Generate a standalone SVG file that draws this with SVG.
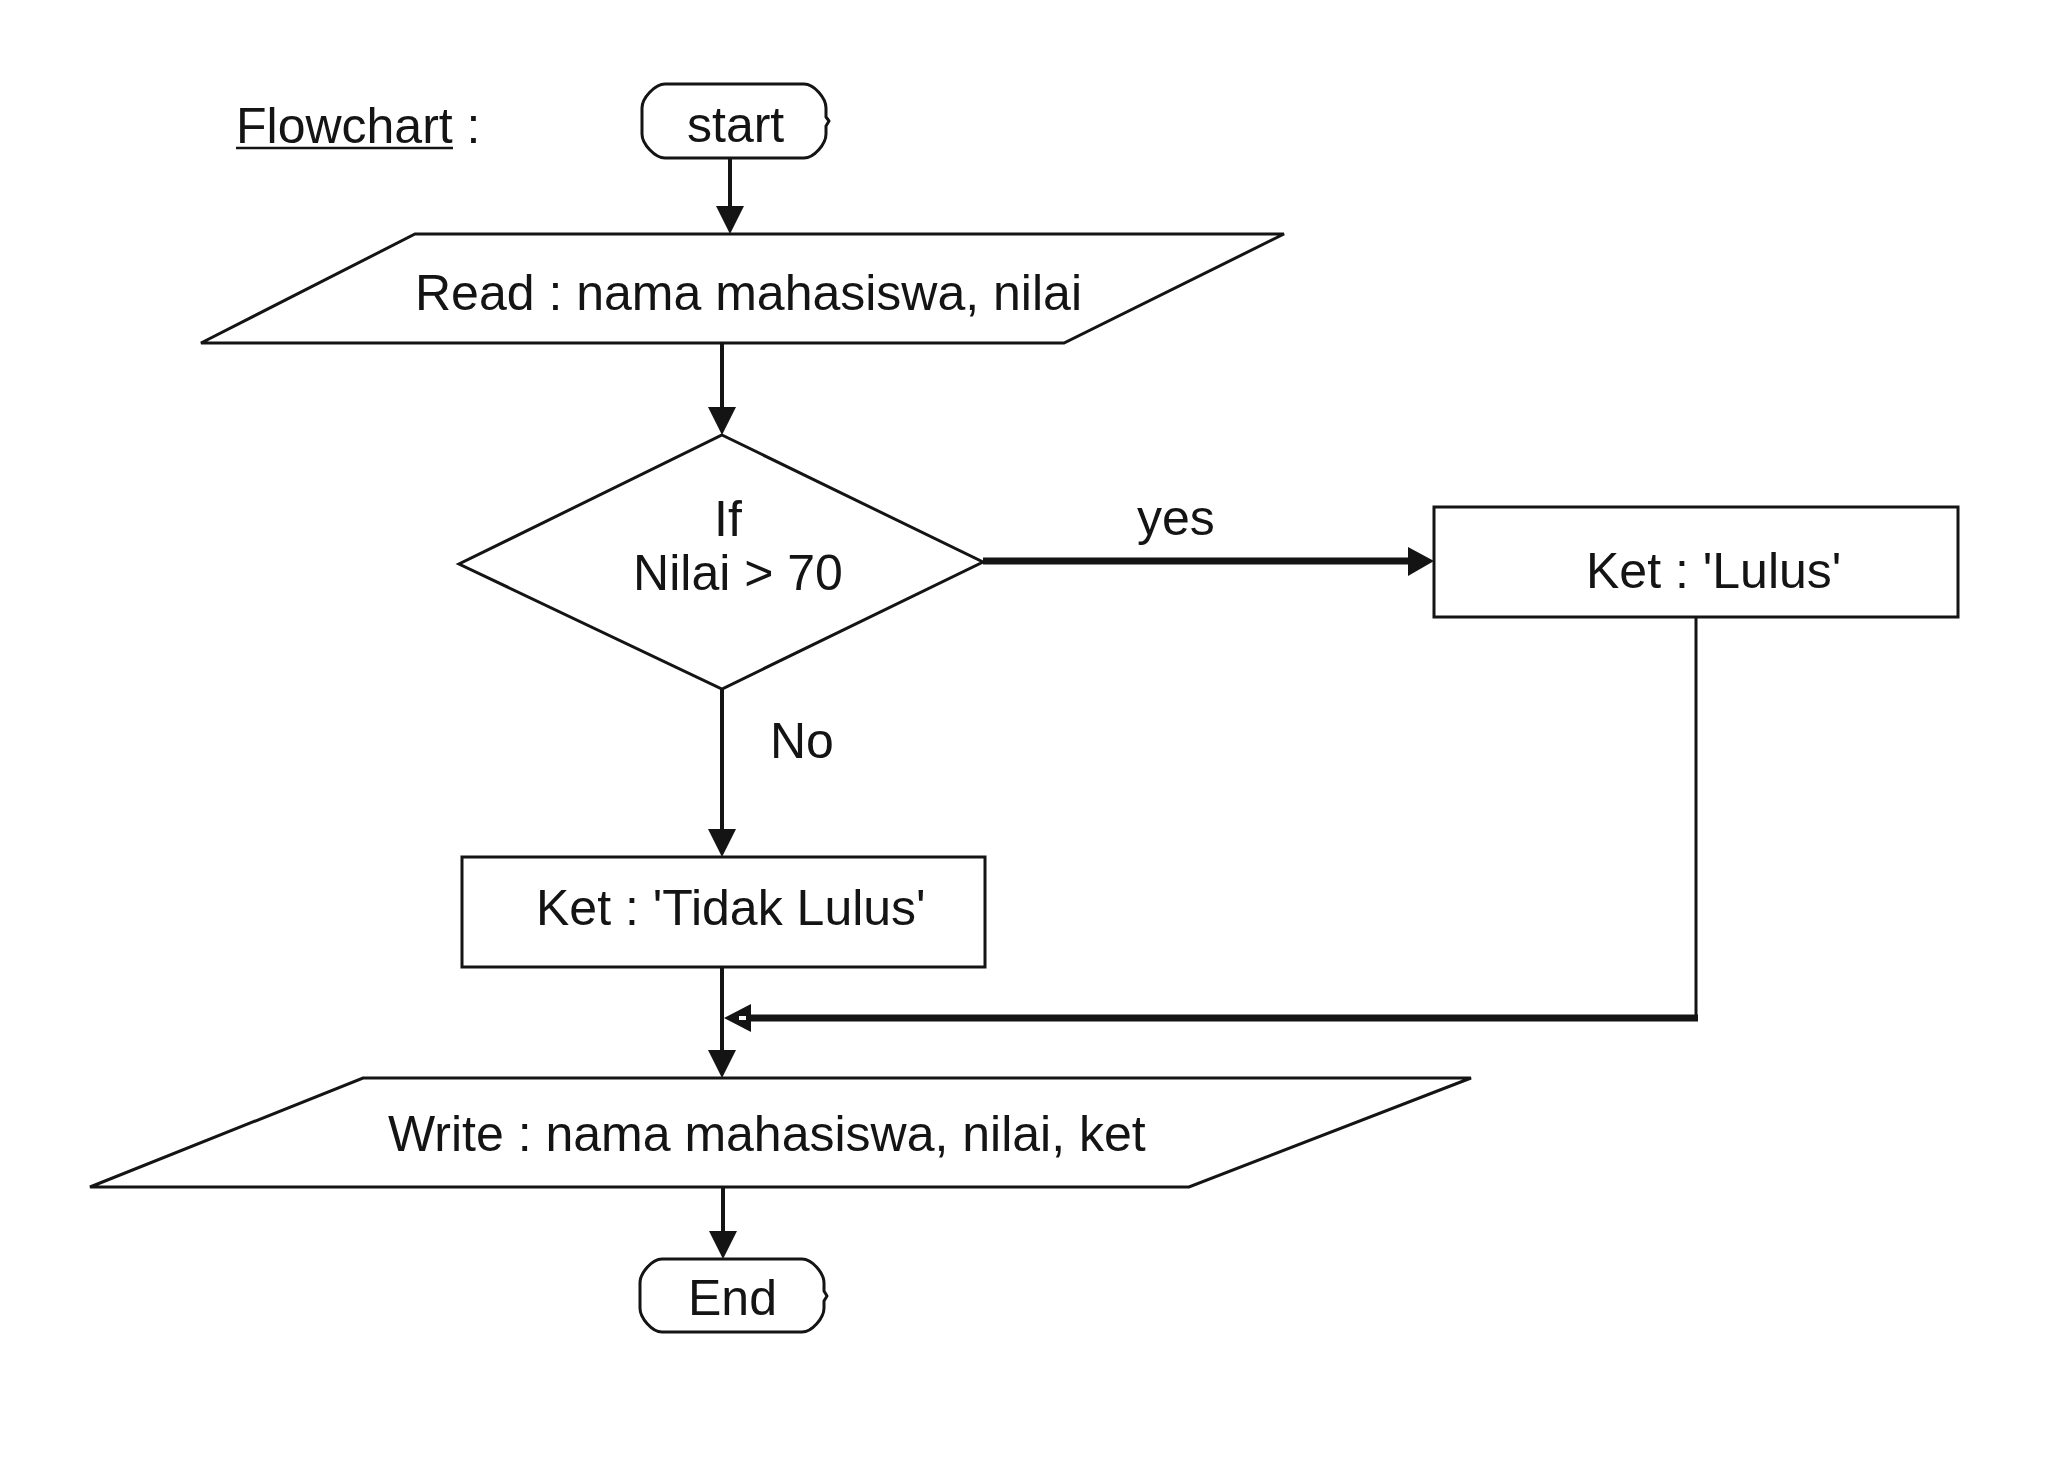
<svg xmlns="http://www.w3.org/2000/svg" width="2046" height="1466" viewBox="0 0 2046 1466">
<style>
.shape{fill:#fff;stroke:#141414;stroke-width:3;stroke-linejoin:miter}
.term{fill:#fff;stroke:#141414;stroke-width:3;stroke-linejoin:round}
.t{font-family:"Liberation Sans",Arial,sans-serif;font-size:50px;fill:#141414}
.c{fill:none;stroke:#141414;stroke-width:4}
.thin{fill:none;stroke:#141414;stroke-width:3}
.thick{fill:none;stroke:#141414;stroke-width:7}
.head{fill:#141414}
</style>
<rect width="2046" height="1466" fill="#fff"/>
<g id="title">
<text class="t" x="236" y="143">Flowchart :</text>
<line x1="236" y1="148" x2="453" y2="148" stroke="#141414" stroke-width="2.5"/>
</g>
<g id="start">
<path class="term" d="M665,84 H804 C814,84 826,98 826,108 V117 L829,121 L826,126 V134 C826,144 814,158 804,158 H665 C655,158 642,144 642,134 V108 C642,98 655,84 665,84 Z"/>
<text class="t" x="687" y="142">start</text>
</g>
<g id="read">
<polygon class="shape" points="415,234 1284,234 1064,343 201,343"/>
<text class="t" x="415" y="310">Read : nama mahasiswa, nilai</text>
</g>
<g id="decision">
<polygon class="shape" points="722,435 983,562 722,689 459,564"/>
<text class="t" x="728" y="536" text-anchor="middle">If</text>
<text class="t" x="738" y="590" text-anchor="middle">Nilai &gt; 70</text>
</g>
<g id="lulus">
<rect class="shape" x="1434" y="507" width="524" height="110"/>
<text class="t" x="1586" y="588">Ket : 'Lulus'</text>
</g>
<g id="tidak">
<rect class="shape" x="462" y="857" width="523" height="110"/>
<text class="t" x="536" y="925">Ket : 'Tidak Lulus'</text>
</g>
<g id="write">
<polygon class="shape" points="363,1078 1471,1078 1189,1187 90,1187"/>
<text class="t" x="388" y="1151">Write : nama mahasiswa, nilai, ket</text>
</g>
<g id="end">
<path class="term" d="M662,1259 H802 C812,1259 824,1273 824,1283 V1291 L827,1296 L824,1301 V1308 C824,1318 812,1332 802,1332 H662 C652,1332 640,1318 640,1308 V1283 C640,1273 652,1259 662,1259 Z"/>
<text class="t" x="688" y="1315">End</text>
</g>
<g id="connectors">
<line class="c" x1="730" y1="158" x2="730" y2="210"/>
<polygon class="head" points="716,206 744,206 730,234"/>
<line class="c" x1="722" y1="343" x2="722" y2="410"/>
<polygon class="head" points="708,407 736,407 722,435"/>
<line class="thick" x1="983" y1="561" x2="1412" y2="561"/>
<polygon class="head" points="1408,547 1408,576 1434,561"/>
<text class="t" x="1137" y="535">yes</text>
<line class="c" x1="722" y1="689" x2="722" y2="832"/>
<polygon class="head" points="708,829 736,829 722,857"/>
<text class="t" x="770" y="758">No</text>
<line class="c" x1="722" y1="967" x2="722" y2="1052"/>
<polygon class="head" points="708,1050 736,1050 722,1078"/>
<polyline class="thin" points="1696,617 1696,1018"/>
<line class="thick" x1="1698" y1="1018" x2="748" y2="1018"/>
<polygon class="head" points="724,1018 751,1004 751,1032"/>
<rect x="739" y="1016" width="7" height="4" fill="#fff"/>
<line class="c" x1="723" y1="1187" x2="723" y2="1234"/>
<polygon class="head" points="709,1231 737,1231 723,1259"/>
</g>
</svg>
